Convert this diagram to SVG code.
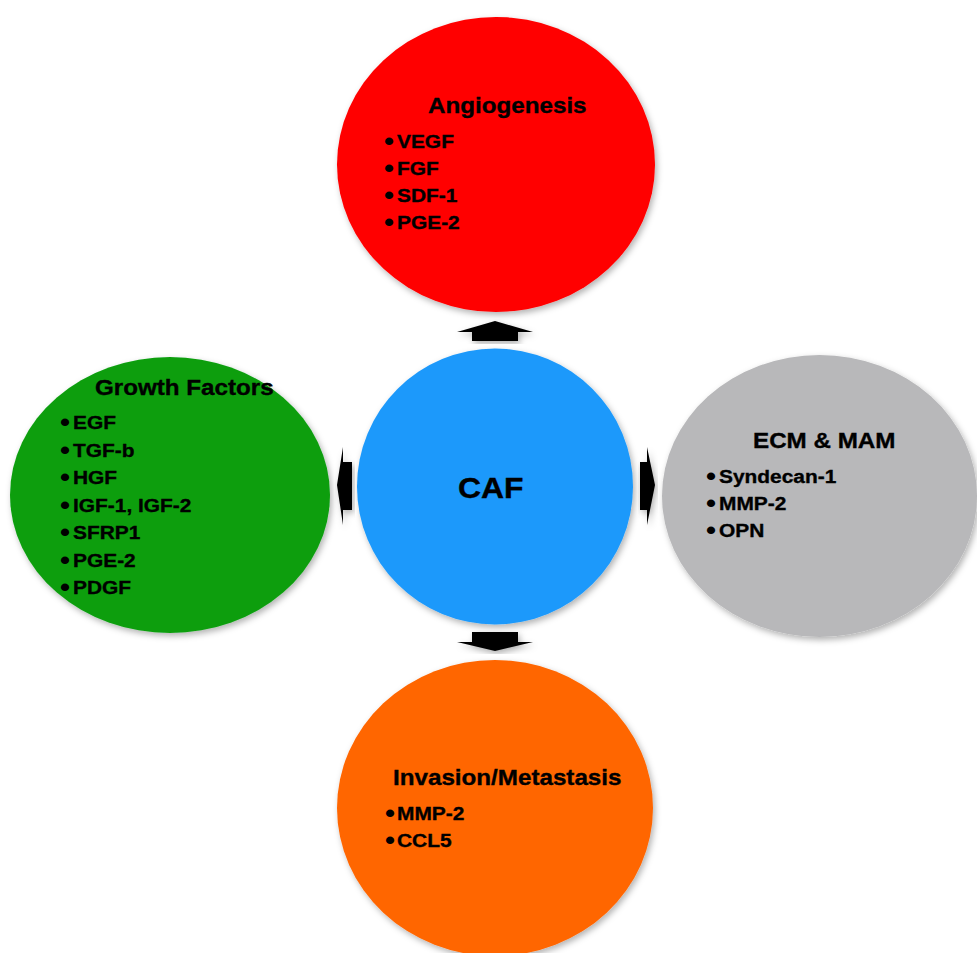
<svg xmlns="http://www.w3.org/2000/svg" width="977" height="953" viewBox="0 0 977 953">
<defs>
<filter id="sh" x="-10%" y="-10%" width="125%" height="125%">
<feDropShadow dx="2" dy="3" stdDeviation="3" flood-color="#000" flood-opacity="0.3"/>
</filter>
</defs>
<style>
text{font-family:"Liberation Sans",Arial,sans-serif;font-weight:bold;fill:#000;stroke:#000;stroke-width:0.35px}
.t{font-size:22px}
.b{font-size:19px}
.d{font-size:26px;stroke:none}
.c{font-size:29px}
.arr{fill:#000;filter:url(#sh)}
</style>
<rect width="977" height="953" fill="#fff"/>
<g id="connectors">
<polygon class="arr" points="495,321 533,332 518,332 518,341 472,341 472,332 457,332"/>
<polygon class="arr" points="472,632 518,632 518,642 533,642 495,651 457,642 472,642"/>
<polygon class="arr" points="337,485 343,447 343,462 352,462 352,510 343,510 343,525"/>
<polygon class="arr" points="655,485 647,447 647,462 640,462 640,510 647,510 647,525"/>
</g>
<g id="angiogenesis">
<ellipse cx="496" cy="164.5" rx="159" ry="147.5" fill="#FF0000" filter="url(#sh)"/>
<text class="t" transform="translate(428,113) scale(1.1,1)">Angiogenesis</text>
<text class="b" transform="translate(397,0) scale(1.1,1)"><tspan class="d" x="-11.8" y="150.5">•</tspan><tspan x="0" y="148">VEGF</tspan><tspan class="d" x="-11.8" y="177.5">•</tspan><tspan x="0" y="175">FGF</tspan><tspan class="d" x="-11.8" y="204.5">•</tspan><tspan x="0" y="202">SDF-1</tspan><tspan class="d" x="-11.8" y="231.5">•</tspan><tspan x="0" y="229">PGE-2</tspan></text>
</g>
<g id="growth-factors">
<ellipse cx="170" cy="495" rx="160" ry="138" fill="#0A9E0F" filter="url(#sh)"/>
<text class="t" transform="translate(95,395) scale(1.1,1)">Growth Factors</text>
<text class="b" transform="translate(73,0) scale(1.1,1)"><tspan class="d" x="-11.8" y="431.5">•</tspan><tspan x="0" y="429">EGF</tspan><tspan class="d" x="-11.8" y="459.5">•</tspan><tspan x="0" y="457">TGF-b</tspan><tspan class="d" x="-11.8" y="486.5">•</tspan><tspan x="0" y="484">HGF</tspan><tspan class="d" x="-11.8" y="514.5">•</tspan><tspan x="0" y="512">IGF-1, IGF-2</tspan><tspan class="d" x="-11.8" y="541.5">•</tspan><tspan x="0" y="539">SFRP1</tspan><tspan class="d" x="-11.8" y="569.5">•</tspan><tspan x="0" y="567">PGE-2</tspan><tspan class="d" x="-11.8" y="596.5">•</tspan><tspan x="0" y="594">PDGF</tspan></text>
</g>
<g id="ecm-mam">
<ellipse cx="819.5" cy="496" rx="157.5" ry="141" fill="#B8B8BA" filter="url(#sh)"/>
<text class="t" transform="translate(753,448) scale(1.1,1)">ECM &amp; MAM</text>
<text class="b" transform="translate(719,0) scale(1.1,1)"><tspan class="d" x="-11.8" y="485.5">•</tspan><tspan x="0" y="483">Syndecan-1</tspan><tspan class="d" x="-11.8" y="512.5">•</tspan><tspan x="0" y="510">MMP-2</tspan><tspan class="d" x="-11.8" y="539.5">•</tspan><tspan x="0" y="537">OPN</tspan></text>
</g>
<g id="invasion">
<ellipse cx="495" cy="808" rx="158" ry="148" fill="#FF6600" filter="url(#sh)"/>
<text class="t" transform="translate(393,785) scale(1.1,1)">Invasion/Metastasis</text>
<text class="b" transform="translate(397,0) scale(1.1,1)"><tspan class="d" x="-11" y="822.5">•</tspan><tspan x="0" y="820">MMP-2</tspan><tspan class="d" x="-11" y="849.5">•</tspan><tspan x="0" y="847">CCL5</tspan></text>
</g>
<g id="caf">
<circle cx="495" cy="486.5" r="138" fill="#1D99FB" filter="url(#sh)"/>
<text class="c" transform="translate(458,498) scale(1.1,1)">CAF</text>
</g>
</svg>
